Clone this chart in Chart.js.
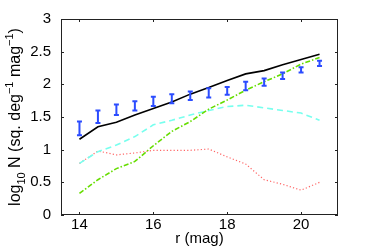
<!DOCTYPE html>
<html>
<head>
<meta charset="utf-8">
<script src="https://cdn.jsdelivr.net/npm/chart.js@4/dist/chart.umd.min.js"></script>
<style>
  html, body { margin: 0; padding: 0; background: #fff; }
  #wrap { width: 374px; height: 249px; }
</style>
</head>
<body>
<div id="wrap"><canvas id="chart" width="374" height="249"></canvas></div>
<script>
const mags = [14, 14.5, 15, 15.5, 16, 16.5, 17, 17.5, 18, 18.5, 19, 19.5, 20, 20.5];
const observedMid = [1.32, 1.5, 1.61, 1.67, 1.74, 1.78, 1.82, 1.87, 1.9, 1.97, 2.04, 2.13, 2.22, 2.32];
const observedLow = [1.22, 1.41, 1.53, 1.6, 1.67, 1.71, 1.76, 1.8, 1.84, 1.91, 1.98, 2.08, 2.18, 2.28];
const observedHigh = [1.43, 1.6, 1.69, 1.74, 1.81, 1.85, 1.89, 1.94, 1.96, 2.04, 2.09, 2.18, 2.26, 2.36];
const totalModel = [1.16, 1.35, 1.42, 1.53, 1.63, 1.73, 1.85, 1.95, 2.06, 2.16, 2.21, 2.3, 2.38, 2.46];
const greenModel = [0.33, 0.54, 0.71, 0.82, 1.06, 1.28, 1.43, 1.62, 1.76, 1.91, 2.04, 2.16, 2.31, 2.41];
const cyanModel = [0.79, 0.97, 1.07, 1.2, 1.38, 1.45, 1.53, 1.6, 1.66, 1.68, 1.64, 1.6, 1.56, 1.45];
const redModel = [0.79, 0.98, 0.92, 0.95, 0.99, 0.99, 0.99, 1.01, 0.89, 0.78, 0.54, 0.47, 0.38, 0.5];
const xTicks = [14, 16, 18, 20];
const yTicks = [0, 0.5, 1, 1.5, 2, 2.5, 3];

const FONT = "'Liberation Sans', Arial, sans-serif";

function toPoints(values) {
  return mags.map((m, i) => ({ x: m, y: values[i] }));
}

// error bars, the boxed frame with inward ticks, and the y title
const boxPlugin = {
  id: "boxPlugin",
  afterDatasetsDraw(chart) {
    const ctx = chart.ctx;
    const xs = chart.scales.x;
    const ys = chart.scales.y;
    const area = chart.chartArea;

    ctx.save();
    ctx.strokeStyle = "#2b4cff";
    ctx.lineWidth = 2;
    for (let i = 0; i < mags.length; i++) {
      const px = xs.getPixelForValue(mags[i]);
      const top = ys.getPixelForValue(observedHigh[i]);
      const bot = ys.getPixelForValue(observedLow[i]);
      ctx.beginPath();
      ctx.moveTo(px, top);
      ctx.lineTo(px, bot);
      ctx.moveTo(px - 2.5, top);
      ctx.lineTo(px + 2.5, top);
      ctx.moveTo(px - 2.5, bot);
      ctx.lineTo(px + 2.5, bot);
      ctx.stroke();
    }

    ctx.strokeStyle = "#222";
    ctx.lineWidth = 1;
    ctx.strokeRect(area.left + 0.5, area.top + 0.5, area.right - area.left - 1, area.bottom - area.top - 1);
    ctx.beginPath();
    for (const t of xTicks) {
      const px = Math.round(xs.getPixelForValue(t)) + 0.5;
      ctx.moveTo(px, area.bottom);
      ctx.lineTo(px, area.bottom - 3);
      ctx.moveTo(px, area.top);
      ctx.lineTo(px, area.top + 3);
    }
    for (const t of yTicks) {
      const py = Math.round(ys.getPixelForValue(t)) + 0.5;
      ctx.moveTo(area.left, py);
      ctx.lineTo(area.left + 3, py);
      ctx.moveTo(area.right, py);
      ctx.lineTo(area.right - 3, py);
    }
    ctx.stroke();

    const parts = [
      { t: "log", s: 0 },
      { t: "10", s: 1 },
      { t: " N (sq. deg", s: 0 },
      { t: "\u22121", s: -1 },
      { t: " mag", s: 0 },
      { t: "\u22121", s: -1 },
      { t: ")", s: 0 },
    ];
    const big = 16;
    const small = 11;
    let total = 0;
    for (const p of parts) {
      ctx.font = (p.s ? small : big) + "px " + FONT;
      total += ctx.measureText(p.t).width;
    }
    const cy = (area.top + area.bottom) / 2;
    ctx.translate(20, cy);
    ctx.rotate(-Math.PI / 2);
    ctx.fillStyle = "#000";
    ctx.textBaseline = "alphabetic";
    let x = -total / 2;
    for (const p of parts) {
      ctx.font = (p.s ? small : big) + "px " + FONT;
      const dy = p.s === 1 ? 5 : p.s === -1 ? -7 : 0;
      ctx.fillText(p.t, x, dy);
      x += ctx.measureText(p.t).width;
    }
    ctx.restore();
  },
};

new Chart(document.getElementById("chart"), {
  type: "scatter",
  data: {
    datasets: [
      {
        label: "total",
        data: toPoints(totalModel),
        showLine: true,
        borderColor: "#000",
        borderWidth: 1.6,
        pointRadius: 0,
      },
      {
        label: "green",
        data: toPoints(greenModel),
        showLine: true,
        borderColor: "#66dd00",
        borderWidth: 1.6,
        borderDash: [5, 2, 1.5, 2],
        pointRadius: 0,
      },
      {
        label: "cyan",
        data: toPoints(cyanModel),
        showLine: true,
        borderColor: "#77ffee",
        borderWidth: 1.6,
        borderDash: [6, 4],
        pointRadius: 0,
      },
      {
        label: "red",
        data: toPoints(redModel),
        showLine: true,
        borderColor: "#ff6666",
        borderWidth: 1.2,
        borderDash: [1.2, 2.2],
        pointRadius: 0,
      },
      {
        label: "observed",
        data: toPoints(observedMid),
        pointRadius: 0,
        borderColor: "#2b4cff",
      },
    ],
  },
  options: {
    responsive: false,
    animation: false,
    layout: { padding: { left: 0, right: 36, top: 19, bottom: 0 } },
    plugins: { legend: { display: false }, tooltip: { enabled: false } },
    scales: {
      x: {
        type: "linear",
        min: 13.5,
        max: 21,
        afterBuildTicks: (scale) => { scale.ticks = xTicks.map((v) => ({ value: v })); },
        afterFit: (scale) => { scale.height = 34; },
        grid: { display: false, drawTicks: false },
        border: { display: false },
        ticks: { color: "#000", font: { family: FONT, size: 15 }, padding: 1, maxRotation: 0, callback: (v) => String(v) },
        title: { display: true, text: "r (mag)", color: "#000", font: { family: FONT, size: 15 }, padding: { top: 0, bottom: 1 } },
      },
      y: {
        type: "linear",
        min: 0,
        max: 3,
        afterBuildTicks: (scale) => { scale.ticks = yTicks.map((v) => ({ value: v })); },
        afterFit: (scale) => { scale.width = 61; },
        grid: { display: false, drawTicks: false },
        border: { display: false },
        ticks: { color: "#000", font: { family: FONT, size: 15 }, padding: 10, callback: (v) => String(v) },
      },
    },
  },
  plugins: [boxPlugin],
});
</script>
</body>
</html>
